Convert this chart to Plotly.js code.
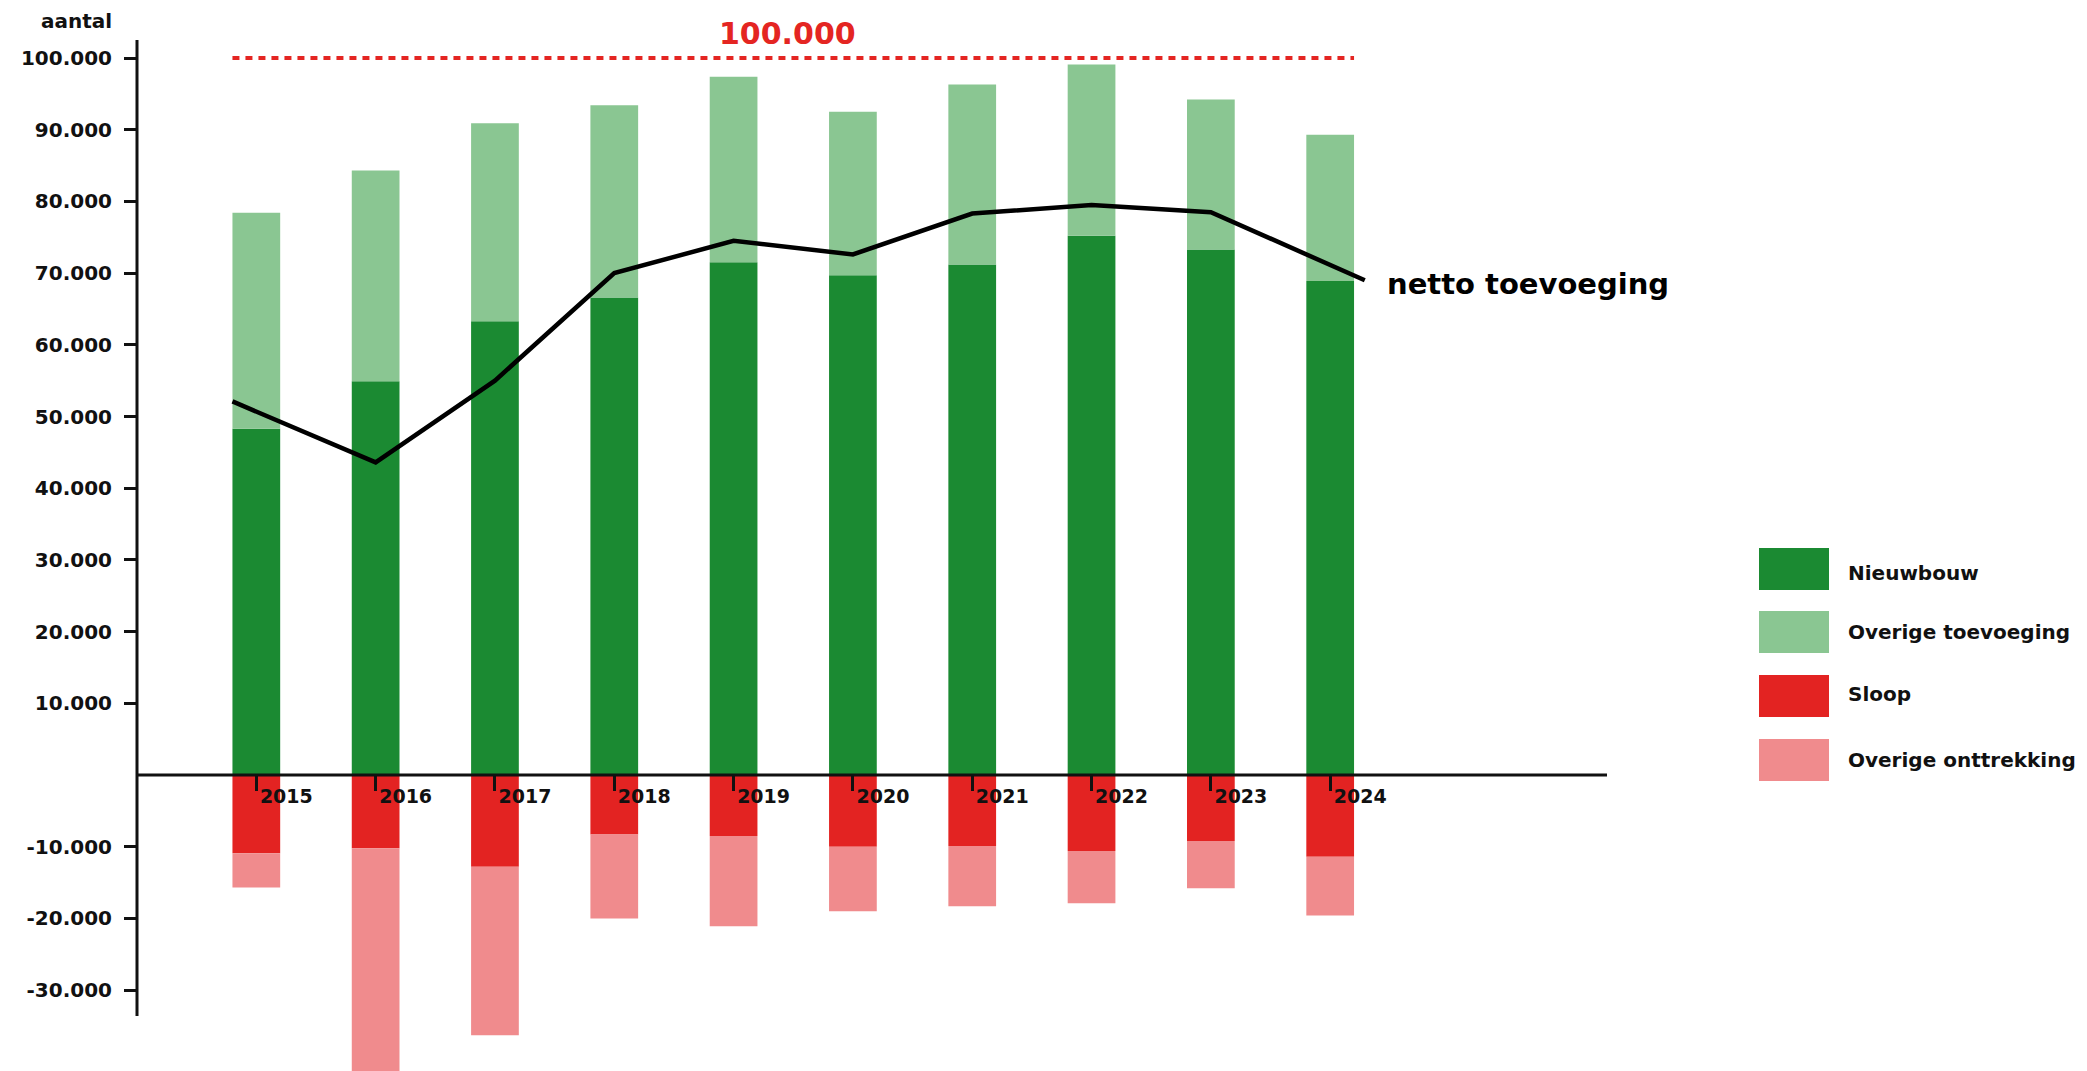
<!DOCTYPE html>
<html>
<head>
<meta charset="utf-8">
<script src="https://cdn.plot.ly/plotly-3.0.1.min.js"></script>
<style>
  html, body { margin: 0; padding: 0; background: #ffffff; }
  #chart { width: 2087px; height: 1071px; }
</style>
</head>
<body>
<div id="chart"></div>
<script>
// ---- data ----
const years = [2015, 2016, 2017, 2018, 2019, 2020, 2021, 2022, 2023, 2024];
const yearLabels = ['2015', '2016', '2017', '2018', '2019', '2020', '2021', '2022', '2023', '2024'];
const nieuwbouw = [48300, 54900, 63300, 66600, 71500, 69700, 71200, 75200, 73300, 68900];
const overigeToevoeging = [30100, 29400, 27600, 26800, 25900, 22800, 25100, 23900, 20900, 20400];
const sloop = [-10900, -10200, -12800, -8300, -8500, -10000, -9900, -10600, -9200, -11400];
const overigeOnttrekking = [-4800, -31500, -23500, -11700, -12600, -9000, -8400, -7300, -6600, -8200];
const nettoX = [2014.8, 2016, 2017, 2018, 2019, 2020, 2021, 2022, 2023, 2024.29];
const netto = [52100, 43600, 55000, 70000, 74500, 72600, 78300, 79500, 78500, 69000];
const doelWaarde = 100000;
const yTickVals = [100000, 90000, 80000, 70000, 60000, 50000, 40000, 30000, 20000, 10000, -10000, -20000, -30000];
const yTickText = ['100.000', '90.000', '80.000', '70.000', '60.000', '50.000', '40.000', '30.000', '20.000', '10.000', '-10.000', '-20.000', '-30.000'];
const seriesNames = ['Nieuwbouw', 'Overige toevoeging', 'Sloop', 'Overige onttrekking'];
const seriesColors = ['#1b8a32', '#8ac692', '#e32322', '#f08b8d'];

// ---- layout geometry ----
const W = 2087, H = 1071;
const M = { l: 137, r: 480, t: 40, b: 0 };
const plotW = W - M.l - M.r, plotH = H - M.t - M.b;
const yMin = -41283, yMax = 102510;
const xMin = 2014.0, xMax = 2026.32;
const px = v => (v - M.l) / plotW;         // page px -> paper x
const py = v => (H - M.b - v) / plotH;     // page px -> paper y

const FONT = 'DejaVu Sans';
const INK = '#111111';

const traces = [
  { type: 'bar', name: seriesNames[0], x: years, y: nieuwbouw, marker: { color: seriesColors[0], line: { width: 0 } } },
  { type: 'bar', name: seriesNames[1], x: years, y: overigeToevoeging, marker: { color: seriesColors[1], line: { width: 0 } } },
  { type: 'bar', name: seriesNames[2], x: years, y: sloop, marker: { color: seriesColors[2], line: { width: 0 } } },
  { type: 'bar', name: seriesNames[3], x: years, y: overigeOnttrekking, marker: { color: seriesColors[3], line: { width: 0 } } },
  { type: 'scatter', mode: 'lines', name: 'netto toevoeging', x: nettoX, y: netto,
    line: { color: '#000000', width: 4.5 } }
];

const shapes = [
  // y axis line (stops at about -33.600)
  { type: 'line', xref: 'paper', yref: 'y', x0: 0, x1: 0, y0: -33600, y1: yMax,
    line: { color: INK, width: 3 }, layer: 'above' },
  // zero line
  { type: 'line', xref: 'paper', yref: 'y', x0: 0, x1: 1, y0: 0, y1: 0,
    line: { color: INK, width: 3 }, layer: 'above' },
  // target line 100.000
  { type: 'line', xref: 'x', yref: 'y', x0: 2014.8, x1: 2024.2, y0: doelWaarde, y1: doelWaarde,
    line: { color: '#e42522', width: 4, dash: '7px,6px' }, layer: 'above' }
];

// legend (manual, large swatches)
const legendTop = [548, 611, 675, 739];
const legendTextY = [573, 632, 694, 760];
const annotations = [];
seriesNames.forEach((n, i) => {
  shapes.push({ type: 'rect', xref: 'paper', yref: 'paper',
    x0: px(1759), x1: px(1829), y0: py(legendTop[i] + 42), y1: py(legendTop[i]),
    fillcolor: seriesColors[i], line: { width: 0 } });
  annotations.push({ xref: 'paper', yref: 'paper', x: px(1846), y: py(legendTextY[i]),
    xanchor: 'left', yanchor: 'middle', showarrow: false, text: n,
    font: { family: FONT, size: 20, color: INK, weight: 'bold' } });
});

annotations.push(
  { xref: 'paper', yref: 'paper', x: px(114), y: py(21), xanchor: 'right', yanchor: 'middle',
    showarrow: false, text: 'aantal', font: { family: FONT, size: 20, color: INK, weight: 'bold' } },
  { xref: 'paper', yref: 'paper', x: px(787), y: py(34), xanchor: 'center', yanchor: 'middle',
    showarrow: false, text: '100.000', font: { family: FONT, size: 30, color: '#e42522', weight: 'bold' } },
  { xref: 'paper', yref: 'paper', x: px(1385), y: py(284), xanchor: 'left', yanchor: 'middle',
    showarrow: false, text: 'netto toevoeging', font: { family: FONT, size: 29, color: '#000000', weight: 'bold' } }
);

const layout = {
  width: W, height: H,
  margin: M,
  paper_bgcolor: '#ffffff', plot_bgcolor: '#ffffff',
  barmode: 'relative', bargap: 0.6,
  showlegend: false,
  font: { family: FONT, color: INK },
  xaxis: {
    type: 'linear', range: [xMin, xMax],
    tickvals: years, ticktext: yearLabels,
    ticks: 'outside', ticklen: 15, tickwidth: 3, tickcolor: INK,
    anchor: 'free', position: (0 - yMin) / (yMax - yMin),
    showline: false, showgrid: false, zeroline: false,
    ticklabelshift: 30, ticklabelstandoff: -11,
    tickfont: { family: FONT, size: 19, color: INK, weight: 'bold' }
  },
  yaxis: {
    range: [yMin, yMax],
    tickvals: yTickVals, ticktext: yTickText,
    ticks: 'outside', ticklen: 12, tickwidth: 3, tickcolor: INK,
    showline: false, showgrid: false, zeroline: false,
    ticklabelstandoff: 8,
    tickfont: { family: FONT, size: 20, color: INK, weight: 'bold' }
  },
  shapes: shapes,
  annotations: annotations
};

Plotly.newPlot('chart', traces, layout, { staticPlot: true, displayModeBar: false });
</script>
</body>
</html>
